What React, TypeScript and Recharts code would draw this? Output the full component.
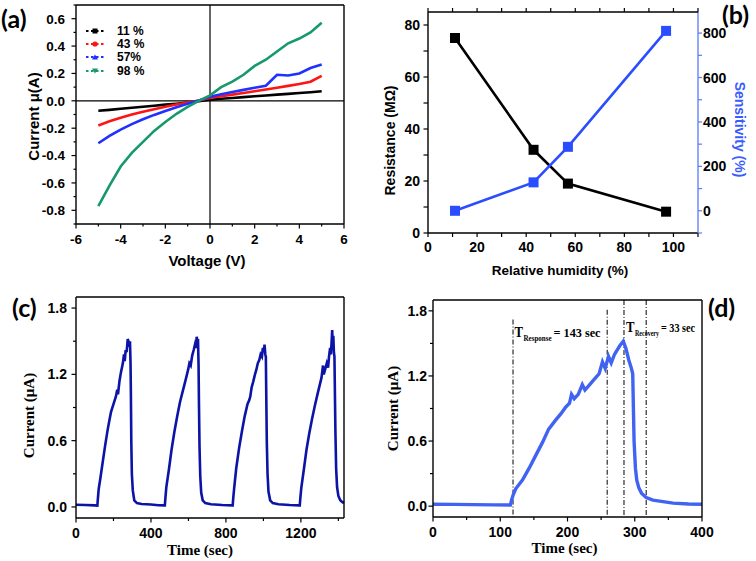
import React from "react";
import { LineChart, Line, XAxis, YAxis, ReferenceLine } from "recharts";

const SANS = '"Liberation Sans", Arial, sans-serif';
const SERIF = '"Liberation Serif", "Times New Roman", serif';

// (a) I-V curves at four humidity levels
const voltage = [-5, -4.5, -4, -3.5, -3, -2.5, -2, -1.5, -1, -0.5, 0, 0.5, 1, 1.5, 2, 2.5, 3, 3.5, 4, 4.5, 5];
const current11 = [-0.073, -0.066, -0.058, -0.051, -0.043, -0.036, -0.028, -0.021, -0.013, -0.003, 0.008, 0.015, 0.021, 0.027, 0.033, 0.039, 0.045, 0.051, 0.057, 0.063, 0.07];
const current43 = [-0.181, -0.15, -0.124, -0.1, -0.08, -0.061, -0.043, -0.027, -0.013, 0.002, 0.02, 0.033, 0.045, 0.057, 0.07, 0.083, 0.096, 0.109, 0.123, 0.14, 0.182];
const current57 = [-0.31, -0.256, -0.21, -0.17, -0.135, -0.103, -0.074, -0.047, -0.022, 0.003, 0.03, 0.048, 0.065, 0.08, 0.095, 0.11, 0.19, 0.185, 0.2, 0.24, 0.265];
const current98 = [-0.77, -0.62, -0.48, -0.38, -0.3, -0.22, -0.155, -0.095, -0.045, 0.0, 0.04, 0.1, 0.14, 0.19, 0.255, 0.3, 0.36, 0.42, 0.455, 0.5, 0.57];
const ivNames = ["11 %", "43 %", "57%", "98 %"];
const ivColors = ["#000000", "#ff1414", "#2030ff", "#16996b"];
const ivMarkers = ["square", "circle", "up", "down"];

// (b) resistance and sensitivity vs relative humidity
const humidity = [11, 43, 57, 97];
const resistance = [75, 32, 19, 8.2];
const sensitivity = [0, 128, 288, 810];

// (c) repeated response cycles
const cycleTime = [0, 50, 100, 114, 116, 121, 130, 142, 155, 169, 180, 187, 200, 213, 220, 224, 232, 240, 250, 256, 260, 265, 270, 276, 280, 284, 288, 291, 293, 295, 298, 303, 311, 325, 350, 400, 440, 470,
  474, 477, 482, 495, 510, 525, 540, 555, 570, 585, 598, 605, 612, 620, 628, 635, 640, 644, 648, 651, 654, 656, 659, 663, 668, 676, 690, 720, 780, 833,
  836, 839, 844, 855, 870, 885, 900, 915, 925, 930, 937, 945, 955, 962, 970, 978, 985, 992, 997, 1002, 1006, 1010, 1013, 1015, 1018, 1022, 1027, 1036, 1050, 1080, 1140, 1192,
  1194, 1197, 1202, 1215, 1230, 1245, 1260, 1275, 1290, 1300, 1310, 1318, 1322, 1330, 1338, 1345, 1350, 1356, 1360, 1364, 1367, 1370, 1373, 1376, 1379, 1381, 1384, 1388, 1393, 1400, 1410, 1420, 1430];
const cycleCurrent = [0.02, 0.018, 0.014, 0.012, 0.06, 0.16, 0.26, 0.4, 0.55, 0.7, 0.8, 0.86, 0.93, 1.0, 1.06, 1.02, 1.14, 1.22, 1.3, 1.38, 1.32, 1.42, 1.4, 1.52, 1.5, 1.45, 1.5, 1.3, 1.0, 0.6, 0.3, 0.15, 0.06, 0.035, 0.027, 0.022, 0.016, 0.014,
  0.014, 0.08, 0.18, 0.33, 0.52, 0.68, 0.82, 0.95, 1.05, 1.15, 1.24, 1.3, 1.28, 1.37, 1.42, 1.47, 1.44, 1.54, 1.5, 1.52, 1.28, 0.95, 0.55, 0.28, 0.13, 0.06, 0.035, 0.025, 0.018, 0.014,
  0.014, 0.08, 0.17, 0.35, 0.53, 0.68, 0.82, 0.93, 0.97, 1.0, 1.08, 1.13, 1.2, 1.24, 1.3, 1.33, 1.38, 1.36, 1.44, 1.4, 1.47, 1.38, 1.36, 1.05, 0.6, 0.3, 0.14, 0.06, 0.035, 0.025, 0.018, 0.014,
  0.014, 0.08, 0.17, 0.33, 0.52, 0.67, 0.8, 0.92, 1.03, 1.1, 1.17, 1.28, 1.2, 1.25, 1.3, 1.26, 1.36, 1.44, 1.38, 1.5, 1.6, 1.45, 1.55, 1.4, 1.36, 1.1, 0.7, 0.35, 0.18, 0.1, 0.06, 0.045, 0.035];

// (d) single cycle with response / recovery markers
const pulseTime = [0, 30, 60, 90, 115, 117, 119, 123, 133, 143, 153, 163, 172, 182, 190, 197, 203, 206, 210, 216, 222, 226, 233, 240, 247, 252, 256, 261, 265, 270, 274, 278, 283, 287, 291, 295, 297, 298, 299, 301, 303, 306, 310, 317, 327, 337, 357, 380, 400];
const pulseCurrent = [0.018, 0.016, 0.014, 0.012, 0.01, 0.06, 0.1, 0.16, 0.24, 0.35, 0.47, 0.59, 0.71, 0.79, 0.85, 0.91, 0.95, 1.03, 0.99, 1.03, 1.12, 1.07, 1.12, 1.17, 1.22, 1.33, 1.27, 1.38, 1.32, 1.4, 1.44, 1.48, 1.52, 1.45, 1.35, 1.27, 1.22, 0.9, 0.6, 0.35, 0.24, 0.17, 0.12, 0.08, 0.055, 0.046, 0.028, 0.02, 0.018];
const markTimes = [119, 259, 284, 317];
const markTops = [1.72, 1.81, 1.9, 1.9];

const ivData = voltage.map((v, i) => ({ v, c11: current11[i], c43: current43[i], c57: current57[i], c98: current98[i] }));
const ivKeys = ["c11", "c43", "c57", "c98"];
const rhData = humidity.map((h, i) => ({ h, r: resistance[i], s: sensitivity[i] }));
const cycleData = cycleTime.map((t, i) => ({ t, c: cycleCurrent[i] }));
const pulseData = pulseTime.map((t, i) => ({ t, c: pulseCurrent[i] }));

// panel layouts: chart size, margins and axis sizes; the plot box follows from them
interface Layout { w: number; h: number; top: number; right: number; yw: number; yw2: number; xh: number }
const LA: Layout = { w: 378, h: 280, top: 5, right: 34, yw: 76, yw2: 0, xh: 56 };
const LB: Layout = { w: 378, h: 280, top: 12, right: 8, yw: 50, yw2: 50, xh: 47 };
const LC: Layout = { w: 378, h: 281, top: 17, right: 34, yw: 76, yw2: 0, xh: 43 };
const LD: Layout = { w: 378, h: 281, top: 20, right: 54, yw: 55, yw2: 0, xh: 44 };
const plotBox = (l: Layout) => ({ x: l.yw, y: l.top, w: l.w - l.right - l.yw - l.yw2, h: l.h - l.top - l.xh });

type Side = "bottom" | "top" | "left" | "right";
interface TickSpec {
  side: Side;
  majors: number[];
  fmt?: (v: number) => string;
  major: number;
  minor: number;
  gap: number;
  size: number;
  lineColor?: string;
  mirror?: number; // also draw an outward tick on the opposite (top) side, this far away
}

const near = (a: number, b: number) => Math.abs(a - b) < 1e-6;
const FRAME = { stroke: "#000", strokeWidth: 1.4 };

function axisTick(spec: TickSpec) {
  const lc = spec.lineColor ?? "#000";
  return (props: any) => {
    const { x, y, payload } = props;
    const v = payload.value as number;
    const isMajor = spec.majors.some((m) => near(m, v));
    const len = isMajor ? spec.major : spec.minor;
    const label = isMajor && spec.fmt ? spec.fmt(v) : null;
    const tp = { fill: "#000", fontSize: spec.size, fontFamily: SANS, fontWeight: 700 };
    if (spec.side === "bottom" || spec.side === "top") {
      const dir = spec.side === "bottom" ? 1 : -1;
      return (
        <g>
          <line x1={x} x2={x} y1={y} y2={y + dir * len} stroke={lc} strokeWidth={1.2} />
          {spec.mirror ? <line x1={x} x2={x} y1={y - spec.mirror} y2={y - spec.mirror - 4} stroke={lc} strokeWidth={1.2} /> : null}
          {label !== null && (
            <text x={x} y={y + spec.gap} textAnchor="middle" {...tp}>{label}</text>
          )}
        </g>
      );
    }
    const dir = spec.side === "left" ? -1 : 1;
    return (
      <g>
        <line x1={x} x2={x + dir * len} y1={y} y2={y} stroke={lc} strokeWidth={1.2} />
        {label !== null && (
          <text x={x + dir * spec.gap} y={y} dy="0.36em" textAnchor={spec.side === "left" ? "end" : "start"} {...tp}>
            {label}
          </text>
        )}
      </g>
    );
  };
}

function xTitle(text: string, fromBottom: number, font: string, size: number, dx = 0) {
  return (props: any) => {
    const vb = props.viewBox;
    return (
      <text x={vb.x + vb.width / 2 + dx} y={vb.y + vb.height - fromBottom} textAnchor="middle" fontFamily={font} fontWeight={700} fontSize={size} fill="#000">
        {text}
      </text>
    );
  };
}

function yTitle(text: string, cxOff: number, font: string, size: number, dy = 0, angle = -90, color = "#000") {
  return (props: any) => {
    const vb = props.viewBox;
    const cx = vb.x + cxOff;
    const cy = vb.y + vb.height / 2 + dy;
    return (
      <text x={cx} y={cy} transform={`rotate(${angle} ${cx} ${cy})`} textAnchor="middle" dominantBaseline="central" fontFamily={font} fontWeight={700} fontSize={size} fill={color}>
        {text}
      </text>
    );
  };
}

// T with a subscript, then "= ... sec"
function annotation(sub: string, rest: string, subW: number, restW: number, dx: number, dy: number) {
  return (props: any) => {
    const vb = props.viewBox;
    const x0 = vb.x + dx;
    const y0 = vb.y + dy;
    const common = { fontFamily: SERIF, fontWeight: 700, fill: "#000", lengthAdjust: "spacingAndGlyphs" as const };
    return (
      <g>
        <text x={x0} y={y0} fontSize={14} textLength={8.5} {...common}>T</text>
        <text x={x0 + 9} y={y0 + 4} fontSize={7.5} textLength={subW} {...common}>{sub}</text>
        <text x={x0 + 11 + subW} y={y0} fontSize={13} textLength={restW} {...common}>{rest}</text>
      </g>
    );
  };
}

const squareDot = (color: string) => (p: any) => (
  <rect key={`sq-${p.index}`} x={p.cx - 5} y={p.cy - 5} width={10} height={10} fill={color} />
);

const fmt1 = (v: number) => v.toFixed(1);
const fmt0 = (v: number) => String(v);

const aXTicks = [-6, -5, -4, -3, -2, -1, 0, 1, 2, 3, 4, 5, 6];
const aXMajor = [-6, -4, -2, 0, 2, 4, 6];
const aYTicks = [-0.9, -0.8, -0.7, -0.6, -0.5, -0.4, -0.3, -0.2, -0.1, 0, 0.1, 0.2, 0.3, 0.4, 0.5, 0.6, 0.7];
const aYMajor = [-0.8, -0.6, -0.4, -0.2, 0, 0.2, 0.4, 0.6];
const bXTicks = [0, 10, 20, 30, 40, 50, 60, 70, 80, 90, 100, 110];
const bXMajor = [0, 20, 40, 60, 80, 100];
const bLTicks = [0, 10, 20, 30, 40, 50, 60, 70, 80];
const bLMajor = [0, 20, 40, 60, 80];
const bRTicks = [-100, 0, 100, 200, 300, 400, 500, 600, 700, 800];
const bRMajor = [0, 200, 400, 600, 800];
const cXTicks = [0, 200, 400, 600, 800, 1000, 1200, 1400];
const cXMajor = [0, 400, 800, 1200];
const tYTicks = [0, 0.3, 0.6, 0.9, 1.2, 1.5, 1.8];
const tYMajor = [0, 0.6, 1.2, 1.8];
const dXTicks = [0, 50, 100, 150, 200, 250, 300, 350, 400];
const dXMajor = [0, 100, 200, 300, 400];

const panelLabel: React.CSSProperties = {
  position: "absolute",
  fontFamily: "Lato, 'Open Sans', sans-serif",
  fontWeight: 700,
  fontSize: 25,
  lineHeight: "30px",
  color: "#000",
  whiteSpace: "nowrap",
};

function MarkerIcon({ kind, color }: { kind: string; color: string }) {
  const c = 9;
  let m: React.ReactNode;
  if (kind === "square") m = <rect x={c - 2.5} y={1.5} width={5} height={5} fill={color} />;
  else if (kind === "circle") m = <circle cx={c} cy={4} r={2.6} fill={color} />;
  else if (kind === "up") m = <polygon points={`${c - 3},6.5 ${c + 3},6.5 ${c},1.5`} fill={color} />;
  else m = <polygon points={`${c - 3},1.5 ${c + 3},1.5 ${c},6.5`} fill={color} />;
  return (
    <svg width={18} height={8} style={{ display: "block" }}>
      <line x1={0} x2={18} y1={4} y2={4} stroke={color} strokeWidth={2} strokeDasharray="2.5 2.5" />
      {m}
    </svg>
  );
}

// box around the plot area (top and right sides; left/bottom come from the axes)
function Frame({ l, right = true }: { l: Layout; right?: boolean }) {
  const p = plotBox(l);
  return (
    <svg width={l.w} height={l.h} style={{ position: "absolute", left: 0, top: 0, pointerEvents: "none" }}>
      <line x1={p.x} x2={p.x + p.w} y1={p.y} y2={p.y} {...FRAME} />
      {right && <line x1={p.x + p.w} x2={p.x + p.w} y1={p.y} y2={p.y + p.h} {...FRAME} />}
    </svg>
  );
}

const margin = (l: Layout) => ({ top: l.top, right: l.right, left: 0, bottom: 0 });

export default function App() {
  return (
    <div style={{ position: "absolute", left: 0, top: 0, width: 756, height: 561, background: "#fff", overflow: "hidden" }}>
      {/* (a) */}
      <div style={{ position: "absolute", left: 0, top: 0, width: LA.w, height: LA.h }}>
        <LineChart width={LA.w} height={LA.h} data={ivData} margin={margin(LA)}>
          <XAxis dataKey="v" type="number" domain={[-6, 6]} ticks={aXTicks} interval={0} tickSize={0} tickMargin={0} height={LA.xh}
            axisLine={FRAME}
            tick={axisTick({ side: "bottom", majors: aXMajor, fmt: fmt0, major: 4.5, minor: 2.5, gap: 20, size: 13.5 })}
            label={xTitle("Voltage (V)", 14, SANS, 15, -3)} />
          <YAxis type="number" domain={[-0.9, 0.7]} ticks={aYTicks} interval={0} tickSize={0} tickMargin={0} width={LA.yw}
            axisLine={FRAME}
            tick={axisTick({ side: "left", majors: aYMajor, fmt: fmt1, major: 4.5, minor: 2.5, gap: 11, size: 13.5 })}
            label={yTitle("Current μ(A)", 33, SANS, 15, 2)} />
          <ReferenceLine x={0} stroke="#000" strokeWidth={1.2} />
          <ReferenceLine y={0} stroke="#000" strokeWidth={1.2} />
          {ivKeys.map((k, i) => (
            <Line key={k} dataKey={k} type="linear" stroke={ivColors[i]} strokeWidth={2.6} dot={false} isAnimationActive={false} />
          ))}
        </LineChart>
        <Frame l={LA} />
        <div style={{ position: "absolute", left: 86, top: 24 }}>
          {ivNames.map((n, i) => (
            <div key={n} style={{ display: "flex", alignItems: "center", height: 13.3 }}>
              <MarkerIcon kind={ivMarkers[i]} color={ivColors[i]} />
              <span style={{ marginLeft: 13, fontFamily: SANS, fontWeight: 700, fontSize: 12, color: "#000" }}>{n}</span>
            </div>
          ))}
        </div>
        <div style={{ ...panelLabel, left: 1, top: 3 }}>(a)</div>
      </div>

      {/* (b) */}
      <div style={{ position: "absolute", left: 378, top: 0, width: LB.w, height: LB.h }}>
        <LineChart width={LB.w} height={LB.h} data={rhData} margin={margin(LB)}>
          <XAxis dataKey="h" type="number" domain={[0, 110]} ticks={bXTicks} interval={0} tickSize={0} tickMargin={0} height={LB.xh}
            axisLine={FRAME}
            tick={axisTick({ side: "bottom", majors: bXMajor, fmt: fmt0, major: 4, minor: 4, gap: 19, size: 14, mirror: plotBox(LB).h })}
            label={xTitle("Relative humidity (%)", 5, SANS, 13.5, -3)} />
          <YAxis yAxisId="left" type="number" domain={[0, 85]} ticks={bLTicks} interval={0} tickSize={0} tickMargin={0} width={LB.yw}
            axisLine={FRAME}
            tick={axisTick({ side: "left", majors: bLMajor, fmt: fmt0, major: 4.5, minor: 4.5, gap: 8, size: 14 })}
            label={yTitle("Resistance (MΩ)", 12, SANS, 14, 18)} />
          <YAxis yAxisId="right" orientation="right" type="number" domain={[-100, 895]} ticks={bRTicks} interval={0} tickSize={0} tickMargin={0} width={LB.yw2}
            axisLine={{ stroke: "#5b78ff", strokeWidth: 1.3 }}
            tick={axisTick({ side: "right", majors: bRMajor, fmt: fmt0, major: 4, minor: 4, gap: 5, size: 14, lineColor: "#5b78ff" })}
            label={yTitle("Sensitivity (%)", 42, SANS, 14, 7, 90, "#3a5cff")} />
          <Line yAxisId="left" dataKey="r" type="linear" stroke="#000" strokeWidth={2.6} dot={squareDot("#000")} isAnimationActive={false} />
          <Line yAxisId="right" dataKey="s" type="linear" stroke="#2a4dff" strokeWidth={2.6} dot={squareDot("#2a4dff")} isAnimationActive={false} />
        </LineChart>
        <Frame l={LB} right={false} />
        <div style={{ ...panelLabel, left: 344, top: -1 }}>(b)</div>
      </div>

      {/* (c) */}
      <div style={{ position: "absolute", left: 0, top: 280, width: LC.w, height: LC.h }}>
        <LineChart width={LC.w} height={LC.h} data={cycleData} margin={margin(LC)}>
          <XAxis dataKey="t" type="number" domain={[0, 1430]} ticks={cXTicks} interval={0} tickSize={0} tickMargin={0} height={LC.xh}
            axisLine={FRAME}
            tick={axisTick({ side: "bottom", majors: cXMajor, fmt: fmt0, major: 4.5, minor: 3, gap: 20, size: 14 })}
            label={xTitle("Time (sec)", 6, SERIF, 15, -10)} />
          <YAxis type="number" domain={[-0.1, 1.9]} ticks={tYTicks} interval={0} tickSize={0} tickMargin={0} width={LC.yw}
            axisLine={FRAME}
            tick={axisTick({ side: "left", majors: tYMajor, fmt: fmt1, major: 4.5, minor: 3, gap: 9, size: 14 })}
            label={yTitle("Current (μA)", 29, SERIF, 15, 8)} />
          <Line dataKey="c" type="linear" stroke="#0c14a8" strokeWidth={2.6} dot={false} isAnimationActive={false} />
        </LineChart>
        <Frame l={LC} />
        <div style={{ ...panelLabel, left: 12, top: 12 }}>(c)</div>
      </div>

      {/* (d) */}
      <div style={{ position: "absolute", left: 378, top: 280, width: LD.w, height: LD.h }}>
        <LineChart width={LD.w} height={LD.h} data={pulseData} margin={margin(LD)}>
          <XAxis dataKey="t" type="number" domain={[0, 400]} ticks={dXTicks} interval={0} tickSize={0} tickMargin={0} height={LD.xh}
            axisLine={FRAME}
            tick={axisTick({ side: "bottom", majors: dXMajor, fmt: fmt0, major: 4.5, minor: 3, gap: 19.5, size: 14 })}
            label={xTitle("Time (sec)", 8, SERIF, 15, -3)} />
          <YAxis type="number" domain={[-0.1, 1.9]} ticks={tYTicks} interval={0} tickSize={0} tickMargin={0} width={LD.yw}
            axisLine={FRAME}
            tick={axisTick({ side: "left", majors: tYMajor, fmt: fmt1, major: 4.5, minor: 3, gap: 6, size: 14 })}
            label={yTitle("Current (μA)", 15, SERIF, 15, 0)} />
          {markTimes.map((t, i) => (
            <ReferenceLine key={t} segment={[{ x: t, y: markTops[i] }, { x: t, y: -0.1 }]} stroke="#000" strokeWidth={1} strokeDasharray="5 2 1 2"
              label={i === 0 ? annotation("Response", "= 143 sec", 28, 47, 1.5, 17) : i === 2 ? annotation("Recovery", "= 33 sec", 24, 34, 2, 32) : undefined} />
          ))}
          <Line dataKey="c" type="linear" stroke="#4063f2" strokeWidth={3.4} dot={false} isAnimationActive={false} />
        </LineChart>
        <Frame l={LD} />
        <div style={{ ...panelLabel, left: 330, top: 12 }}>(d)</div>
      </div>
    </div>
  );
}
